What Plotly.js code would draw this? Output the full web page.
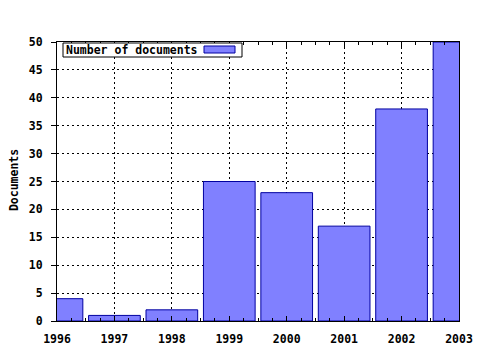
<!DOCTYPE html>
<html><head><meta charset="utf-8">
<script src="https://cdn.plot.ly/plotly-3.0.1.min.js"></script>
<style>html,body{margin:0;padding:0;background:#fff}#chart{width:480px;height:350px}</style>
</head><body><div id="chart"></div>
<script>
const years = [1996, 1997, 1998, 1999, 2000, 2001, 2002, 2003];
const documents = [4, 1, 2, 25, 23, 17, 38, 50];
const seriesName = "Number of documents";
const yTitle = "Documents";

const fnt = {family: "DejaVu Sans Mono", size: 11.5, color: "#000", weight: "bold"};

const trace = {
  type: "bar", x: years, y: documents, width: 0.9, name: seriesName,
  marker: {color: "#8080ff", line: {color: "#0000a0", width: 1}},
  showlegend: false, hoverinfo: "skip"
};

const axisCommon = {
  showline: true, linecolor: "#000", linewidth: 1,
  tickcolor: "#000", tickwidth: 1,
  showgrid: true, gridcolor: "#000", gridwidth: 1, griddash: "2px,3px",
  zeroline: false, tickfont: fnt, fixedrange: true
};

const layout = {
  width: 480, height: 350,
  margin: {l: 57, r: 21, t: 42, b: 29},
  paper_bgcolor: "#fff", plot_bgcolor: "#fff",
  font: fnt,
  bargap: 0,
  xaxis: Object.assign({}, axisCommon, {
    range: [1996, 2003], tickmode: "linear", tick0: 1996, dtick: 1,
    tickformat: "d", ticks: "inside", ticklen: 5, mirror: "ticks", ticklabelstandoff: 7,
    minor: {dtick: 0.25, tick0: 1996, ticks: "inside", ticklen: 3, tickcolor: "#000", showgrid: false}
  }),
  yaxis: Object.assign({}, axisCommon, {
    range: [0, 50], tickmode: "linear", tick0: 0, dtick: 5,
    ticks: "outside", ticklen: 5, mirror: true, ticklabelstandoff: 6
  }),
  annotations: [
    {xref: "paper", yref: "paper", x: -0.107, y: 0.505, text: yTitle, textangle: -90,
     showarrow: false, font: fnt, xanchor: "center", yanchor: "middle"},
    {xref: "paper", yref: "paper", x: (64 - 57) / 402, y: (321 - 50) / 279, text: seriesName,
     showarrow: false, font: fnt, xanchor: "left", yanchor: "middle"}
  ],
  shapes: [
    {type: "rect", xref: "paper", yref: "paper",
     x0: (63 - 57) / 402, x1: (242 - 57) / 402, y0: (321 - 57) / 279, y1: (321 - 43) / 279,
     line: {color: "#000", width: 1}, fillcolor: "#fff", layer: "above"},
    {type: "rect", xref: "paper", yref: "paper",
     x0: (204 - 57) / 402, x1: (235 - 57) / 402, y0: (321 - 53) / 279, y1: (321 - 46) / 279,
     line: {color: "#0000a0", width: 1}, fillcolor: "#8080ff", layer: "above"}
  ]
};

Plotly.newPlot("chart", [trace], layout, {displayModeBar: false, staticPlot: true});
</script></body></html>
